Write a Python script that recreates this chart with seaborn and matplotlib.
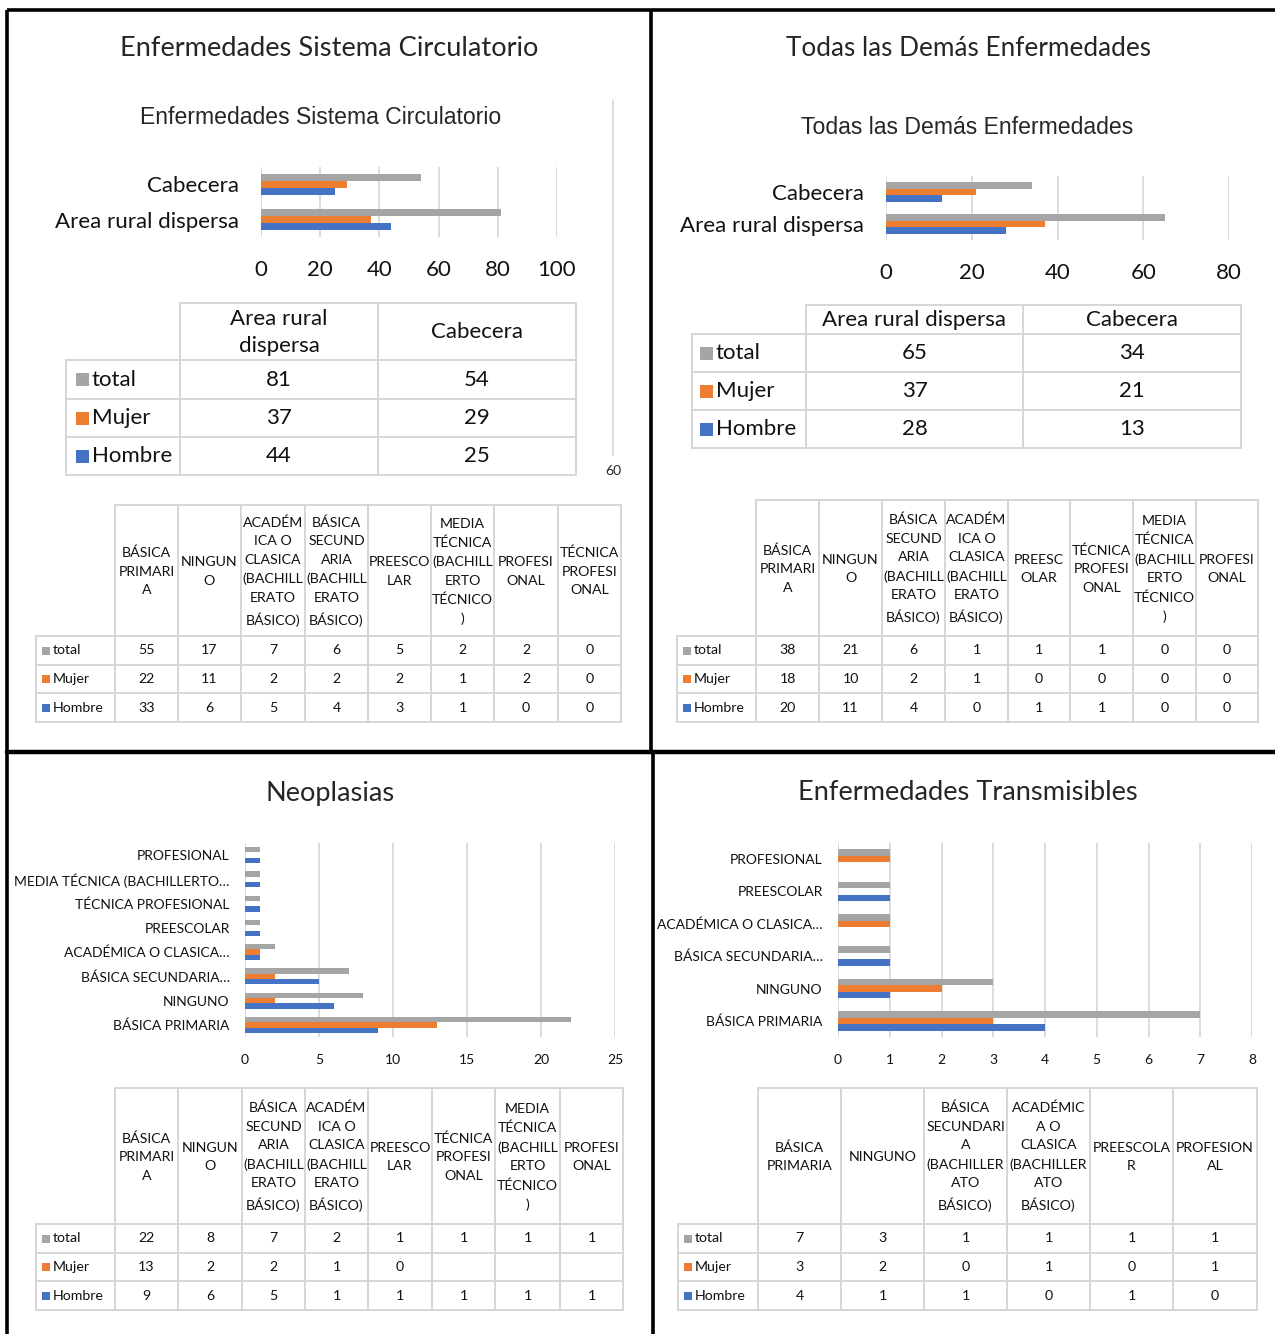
import matplotlib
matplotlib.use('Agg')
import matplotlib.pyplot as plt
import numpy as np
import pandas as pd
import seaborn as sns
from matplotlib.patches import Rectangle

SERIES = ['total', 'Mujer', 'Hombre']
COLORS = ['#A5A5A5', '#ED7D31', '#4472C4']
NAN = np.nan

# --- Enfermedades Sistema Circulatorio (por área) ---
circ_areas = ['Area rural dispersa', 'Cabecera']
circ_area_heads = ['Area rural\ndispersa', 'Cabecera']
circ_total = [81, 54]
circ_mujer = [37, 29]
circ_hombre = [44, 25]

# tabla de escolaridad bajo el primer panel
circ_edu_heads = ['BÁSICA\nPRIMARI\nA', 'NINGUN\nO', 'ACADÉM\nICA O\nCLASICA\n(BACHILL\nERATO\nBÁSICO)',
                  'BÁSICA\nSECUND\nARIA\n(BACHILL\nERATO\nBÁSICO)', 'PREESCO\nLAR',
                  'MEDIA\nTÉCNICA\n(BACHILL\nERTO\nTÉCNICO\n)', 'PROFESI\nONAL', 'TÉCNICA\nPROFESI\nONAL']
circ_edu_total = [55, 17, 7, 6, 5, 2, 2, 0]
circ_edu_mujer = [22, 11, 2, 2, 2, 1, 2, 0]
circ_edu_hombre = [33, 6, 5, 4, 3, 1, 0, 0]

# --- Todas las Demás Enfermedades ---
otras_areas = ['Area rural dispersa', 'Cabecera']
otras_area_heads = ['Area rural dispersa', 'Cabecera']
otras_total = [65, 34]
otras_mujer = [37, 21]
otras_hombre = [28, 13]

otras_edu_heads = ['BÁSICA\nPRIMARI\nA', 'NINGUN\nO', 'BÁSICA\nSECUND\nARIA\n(BACHILL\nERATO\nBÁSICO)',
                   'ACADÉM\nICA O\nCLASICA\n(BACHILL\nERATO\nBÁSICO)', 'PREESC\nOLAR',
                   'TÉCNICA\nPROFESI\nONAL', 'MEDIA\nTÉCNICA\n(BACHILL\nERTO\nTÉCNICO\n)', 'PROFESI\nONAL']
otras_edu_total = [38, 21, 6, 1, 1, 1, 0, 0]
otras_edu_mujer = [18, 10, 2, 1, 0, 0, 0, 0]
otras_edu_hombre = [20, 11, 4, 0, 1, 1, 0, 0]

# --- Neoplasias ---
neo_cats = ['BÁSICA PRIMARIA', 'NINGUNO', 'BÁSICA SECUNDARIA…', 'ACADÉMICA O CLASICA…', 'PREESCOLAR',
            'TÉCNICA PROFESIONAL', 'MEDIA TÉCNICA (BACHILLERTO…', 'PROFESIONAL']
neo_heads = ['BÁSICA\nPRIMARI\nA', 'NINGUN\nO', 'BÁSICA\nSECUND\nARIA\n(BACHILL\nERATO\nBÁSICO)',
             'ACADÉM\nICA O\nCLASICA\n(BACHILL\nERATO\nBÁSICO)', 'PREESCO\nLAR', 'TÉCNICA\nPROFESI\nONAL',
             'MEDIA\nTÉCNICA\n(BACHILL\nERTO\nTÉCNICO\n)', 'PROFESI\nONAL']
neo_total = [22, 8, 7, 2, 1, 1, 1, 1]
neo_mujer = [13, 2, 2, 1, 0, NAN, NAN, NAN]
neo_hombre = [9, 6, 5, 1, 1, 1, 1, 1]

# --- Enfermedades Transmisibles ---
trans_cats = ['BÁSICA PRIMARIA', 'NINGUNO', 'BÁSICA SECUNDARIA…', 'ACADÉMICA O CLASICA…', 'PREESCOLAR',
              'PROFESIONAL']
trans_heads = ['BÁSICA\nPRIMARIA', 'NINGUNO', 'BÁSICA\nSECUNDARI\nA\n(BACHILLER\nATO\nBÁSICO)',
               'ACADÉMIC\nA O\nCLASICA\n(BACHILLER\nATO\nBÁSICO)', 'PREESCOLA\nR', 'PROFESION\nAL']
trans_total = [7, 3, 1, 1, 1, 1]
trans_mujer = [3, 2, 0, 1, 0, 1]
trans_hombre = [4, 1, 1, 0, 1, 0]

W, H = 1275, 1334
sns.set_theme(style='white')
plt.rcParams['font.family'] = ['Lato', 'DejaVu Sans']
NARROW = ['Liberation Sans', 'DejaVu Sans']
LINE = '#D6D6D6'

fig = plt.figure(figsize=(W / 100, H / 100), dpi=100)
bg = fig.add_axes([0, 0, 1, 1])
bg.set_xlim(0, W)
bg.set_ylim(H, 0)
bg.axis('off')


def px_rect(x0, y0, x1, y1):
    return [x0 / W, 1 - y1 / H, (x1 - x0) / W, (y1 - y0) / H]


def long_df(cats, total, mujer, hombre):
    return pd.DataFrame({
        'cat': list(cats) * 3,
        'serie': np.repeat(SERIES, len(cats)),
        'valor': list(total) + list(mujer) + list(hombre),
    })


def bar_chart(box, cats, total, mujer, hombre, xmax, step, fs, width, xpad, ypad):
    ax = fig.add_axes(px_rect(*box))
    ax.patch.set_alpha(0)
    df = long_df(cats, total, mujer, hombre)
    sns.barplot(data=df, x='valor', y='cat', hue='serie', order=cats[::-1], hue_order=SERIES,
                palette=COLORS, orient='h', width=width, saturation=1, errorbar=None,
                legend=False, linewidth=0, ax=ax)
    ax.set_xlim(0, xmax)
    ax.set_xticks(np.arange(0, xmax + 1, step))
    ax.set_ylim(len(cats) - 0.5, -0.5)
    ax.grid(axis='x', color='#D9D9D9', lw=1.3)
    ax.grid(axis='y', visible=False)
    ax.set_axisbelow(True)
    for s in ax.spines.values():
        s.set_visible(False)
    ax.tick_params(axis='both', length=0, labelsize=fs, colors='#111111')
    ax.tick_params(axis='x', pad=xpad)
    ax.tick_params(axis='y', pad=ypad)
    ax.set_xlabel('')
    ax.set_ylabel('')
    return ax


def data_table(xs, ys, heads, rows, fs, sq, gap, spacing=1.3):
    lw = 1.4
    bg.plot([xs[1], xs[-1]], [ys[0], ys[0]], color=LINE, lw=lw)
    for y in ys[1:]:
        bg.plot([xs[0], xs[-1]], [y, y], color=LINE, lw=lw)
    bg.plot([xs[0], xs[0]], [ys[1], ys[-1]], color=LINE, lw=lw)
    for x in xs[1:]:
        bg.plot([x, x], [ys[0], ys[-1]], color=LINE, lw=lw)
    for j, h in enumerate(heads):
        bg.text((xs[j + 1] + xs[j + 2]) / 2, (ys[0] + ys[1]) / 2 + 1, h, ha='center', va='center',
                fontsize=fs, linespacing=spacing, color='#111111')
    for i, (name, color, vals) in enumerate(rows):
        yc = (ys[i + 1] + ys[i + 2]) / 2
        bg.add_patch(Rectangle((xs[0] + gap, yc - sq / 2), sq, sq, color=color, lw=0))
        bg.text(xs[0] + gap + sq + 3, yc, name, ha='left', va='center', fontsize=fs, color='#111111')
        for j, v in enumerate(vals):
            if not np.isnan(v):
                bg.text((xs[j + 1] + xs[j + 2]) / 2, yc, f'{v:g}', ha='center', va='center',
                        fontsize=fs, color='#111111')


# marcos de los cuatro paneles
bk = dict(color='black', lw=2.6, solid_capstyle='butt')
bg.plot([7, W], [10, 10], **bk)
bg.plot([7, 7], [10, H], **bk)
bg.plot([651, 651], [10, 752], **bk)
bg.plot([653, 653], [752, H], **bk)
bg.plot([7, W], [752, 752], color='black', lw=3.2)

# ---------------- panel 1 ----------------
bg.text(329, 49, 'Enfermedades Sistema Circulatorio', ha='center', va='center', fontsize=19.6)
bg.text(321, 118, 'Enfermedades Sistema Circulatorio', ha='center', va='center', fontsize=16.6,
        family=NARROW)
bg.plot([613, 613], [100, 455], color='#D9D9D9', lw=1.3)
bg.text(613, 471, '60', ha='center', va='center', fontsize=10)
bar_chart((261, 167, 557, 237), circ_areas, circ_total, circ_mujer, circ_hombre, 100, 20, 16,
          0.62, 16.5, 16)
data_table([66, 180, 378, 576], [303, 360, 399, 437, 475], circ_area_heads,
           [('total', COLORS[0], circ_total), ('Mujer', COLORS[1], circ_mujer),
            ('Hombre', COLORS[2], circ_hombre)], 16, 13, 10, spacing=1.4)
data_table([36, 115, 178, 241, 305, 368, 431, 494, 558, 621], [505, 636, 665, 693, 722],
           circ_edu_heads,
           [('total', COLORS[0], circ_edu_total), ('Mujer', COLORS[1], circ_edu_mujer),
            ('Hombre', COLORS[2], circ_edu_hombre)], 10.2, 8, 6, spacing=1.65)

# ---------------- panel 2 ----------------
bg.text(968, 49, 'Todas las Demás Enfermedades', ha='center', va='center', fontsize=18.8)
bg.text(967, 128, 'Todas las Demás Enfermedades', ha='center', va='center', fontsize=16.6,
        family=NARROW)
bar_chart((886, 176, 1229, 240), otras_areas, otras_total, otras_mujer, otras_hombre, 80, 20, 16,
          0.6, 16.5, 16)
data_table([692, 806, 1023, 1241], [305, 334, 372, 410, 448], otras_area_heads,
           [('total', COLORS[0], otras_total), ('Mujer', COLORS[1], otras_mujer),
            ('Hombre', COLORS[2], otras_hombre)], 16, 13, 8)
data_table([677, 756, 819, 882, 945, 1008, 1070, 1133, 1196, 1258], [500, 636, 665, 693, 722],
           otras_edu_heads,
           [('total', COLORS[0], otras_edu_total), ('Mujer', COLORS[1], otras_edu_mujer),
            ('Hombre', COLORS[2], otras_edu_hombre)], 10.2, 8, 6, spacing=1.65)

# ---------------- panel 3 ----------------
bg.text(330, 793, 'Neoplasias', ha='center', va='center', fontsize=19.6)
bar_chart((245, 843, 615, 1037), neo_cats, neo_total, neo_mujer, neo_hombre, 25, 5, 10,
          0.65, 12, 11)
data_table([36, 115, 178, 242, 305, 368, 432, 495, 560, 623], [1088, 1224, 1253, 1281, 1310],
           neo_heads,
           [('total', COLORS[0], neo_total), ('Mujer', COLORS[1], neo_mujer),
            ('Hombre', COLORS[2], neo_hombre)], 10.2, 8, 6, spacing=1.65)

# ---------------- panel 4 ----------------
bg.text(968, 793, 'Enfermedades Transmisibles', ha='center', va='center', fontsize=19.6)
bar_chart((838, 843, 1252, 1037), trans_cats, trans_total, trans_mujer, trans_hombre, 8, 1, 10,
          0.6, 12, 11)
data_table([678, 758, 841, 924, 1007, 1090, 1173, 1257], [1088, 1224, 1253, 1281, 1310],
           trans_heads,
           [('total', COLORS[0], trans_total), ('Mujer', COLORS[1], trans_mujer),
            ('Hombre', COLORS[2], trans_hombre)], 10.2, 8, 6, spacing=1.65)

fig.savefig('out.png', dpi=100)
